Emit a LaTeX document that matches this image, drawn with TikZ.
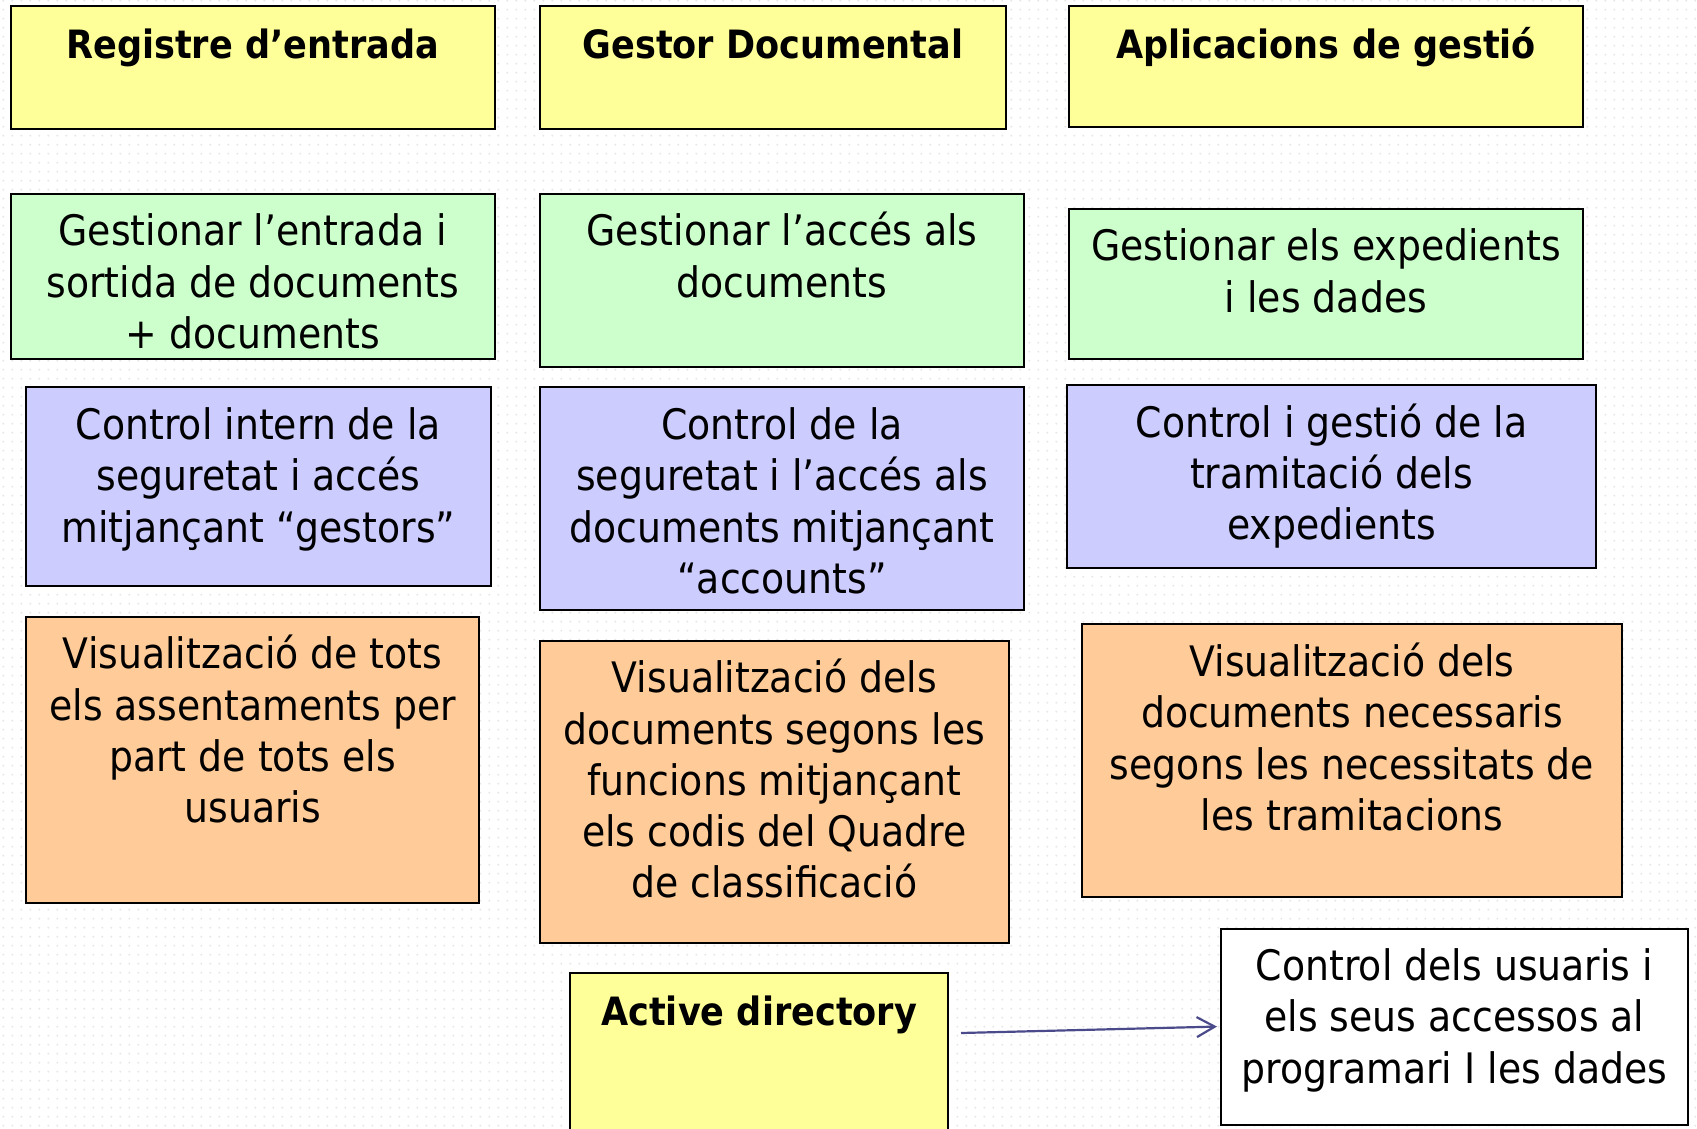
\documentclass[tikz,border=0pt]{standalone}
\usepackage{fontspec}
\setmainfont{DejaVu Sans}[FakeStretch=0.9]
\usetikzlibrary{arrows.meta,patterns.meta}
\definecolor{yel}{HTML}{FFFF99}
\definecolor{grn}{HTML}{CCFFCC}
\definecolor{blu}{HTML}{CCCCFF}
\definecolor{org}{HTML}{FFCC99}
\definecolor{arrc}{HTML}{4B4B8C}
\definecolor{dotc}{HTML}{E6E6E6}
\newcommand{\bodysize}{\fontsize{42}{51.3}\selectfont}
\newcommand{\titlesize}{\fontsize{39}{51.3}\selectfont\bfseries}
\tikzdeclarepattern{name=bgdots, type=uncolored,
  bounding box={(0pt,0pt) and (9.3pt,9.3pt)},
  tile size={(9.3pt,9.3pt)},
  code={\fill (4.65pt,4.65pt) circle (1.1pt);}}
\begin{document}
\begin{tikzpicture}[x=1pt,y=-1pt,
  box/.style={draw=black, line width=2pt, inner sep=0pt, anchor=north west, rectangle},
  txt/.style={anchor=north, inner sep=0pt, align=center, font=\bodysize},
  ttl/.style={anchor=north, inner sep=0pt, align=center, font=\titlesize},
  arr/.style={draw=arrc, line width=2.2pt, -{Straight Barb[length=18pt,width=20pt,line width=2.2pt]}}]
\useasboundingbox[fill=white] (0,0) rectangle (1697,1129);
\clip (0,0) rectangle (1697,1129);
\fill[pattern=bgdots, pattern color=dotc] (0,0) rectangle (1697,1129);
% row 1
\node[box, fill=yel, minimum width=484pt, minimum height=123pt] (A1) at (9.7,5.4) {};
\node[box, fill=yel, minimum width=466pt, minimum height=123pt] (A2) at (539,5.4) {};
\node[box, fill=yel, minimum width=514pt, minimum height=121pt] (A3) at (1068,5.4) {};
\node[ttl] (A1t) at ([yshift=-17pt]A1.north) {\strut Registre d’entrada};
\node[ttl] (A2t) at ([yshift=-17pt]A2.north) {\strut Gestor Documental};
\node[ttl] (A3t) at ([yshift=-17pt]A3.north) {\strut Aplicacions de gestió};
% row 2
\node[box, fill=grn, minimum width=484pt, minimum height=165pt] (B1) at (9.7,192.6) {};
\node[box, fill=grn, minimum width=484pt, minimum height=173pt] (B2) at (539,192.6) {};
\node[box, fill=grn, minimum width=514pt, minimum height=150pt] (B3) at (1068,207.8) {};
\node[txt] (B1t) at ([yshift=-17pt]B1.north) {\strut Gestionar l’entrada i\\sortida de documents\\+ documents};
\node[txt] (B2t) at ([yshift=-17pt]B2.north) {\strut Gestionar l’accés als\\documents};
\node[txt] (B3t) at ([yshift=-17pt]B3.north) {\strut Gestionar els expedients\\i les dades};
% row 3
\node[box, fill=blu, minimum width=465pt, minimum height=199pt] (C1) at (24.9,386.4) {};
\node[box, fill=blu, minimum width=484pt, minimum height=223pt] (C2) at (539,386.4) {};
\node[box, fill=blu, minimum width=529pt, minimum height=183pt] (C3) at (1066,384.2) {};
\node[txt] (C1t) at ([yshift=-17pt]C1.north) {\strut Control intern de la\\seguretat i accés\\mitjançant “gestors”};
\node[txt] (C2t) at ([yshift=-17pt]C2.north) {\strut Control de la\\seguretat i l’accés als\\documents mitjançant\\“accounts”};
\node[txt] (C3t) at ([yshift=-17pt]C3.north) {\strut Control i gestió de la\\tramitació dels\\expedients};
% row 4
\node[box, fill=org, minimum width=453.5pt, minimum height=286pt] (D1) at (24.9,615.8) {};
\node[box, fill=org, minimum width=468.6pt, minimum height=302pt] (D2) at (539,639.6) {};
\node[box, fill=org, minimum width=540pt, minimum height=272.7pt] (D3) at (1081,623.4) {};
\node[txt] (D1t) at ([yshift=-17pt]D1.north) {\strut Visualització de tots\\els assentaments per\\part de tots els\\usuaris};
\node[txt] (D2t) at ([yshift=-17pt]D2.north) {\strut Visualització dels\\documents segons les\\funcions mitjançant\\els codis del Quadre\\de classificació};
\node[txt] (D3t) at ([yshift=-17pt]D3.north) {\strut Visualització dels\\documents necessaris\\segons les necessitats de\\les tramitacions};
% bottom
\node[box, fill=yel, minimum width=377.7pt, minimum height=180pt] (E1) at (569.3,972) {};
\node[ttl] (E1t) at ([yshift=-17pt]E1.north) {\strut Active directory};
\node[box, fill=white, minimum width=467pt, minimum height=196pt] (E2) at (1220,927.5) {};
\node[txt] (E2t) at ([yshift=-17pt]E2.north) {\strut Control dels usuaris i\\els seus accessos al\\programari I les dades};
\coordinate (ADs) at (961,1033);
\draw[arr, shorten >=3pt] (ADs) -- (E2.west);
\end{tikzpicture}
\end{document}
